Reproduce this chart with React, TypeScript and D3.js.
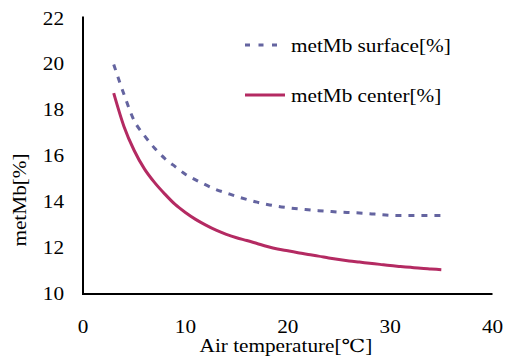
import React from "react";
import * as d3 from "d3";

const temps = [3,4,5,6,7,8,9,10,11,12,13,14,15,16,17,18,19,20,21,22,23,24,25,26,27,28,29,30,31,32,33,34,35];
const surface = [20.0,18.7,17.55,16.9,16.35,15.9,15.55,15.22,14.97,14.75,14.55,14.4,14.25,14.12,14.0,13.9,13.82,13.76,13.71,13.67,13.63,13.6,13.57,13.55,13.53,13.5,13.46,13.43,13.42,13.42,13.42,13.42,13.42];
const center = [18.75,17.3,16.25,15.45,14.85,14.35,13.9,13.55,13.25,13.0,12.78,12.6,12.45,12.33,12.2,12.07,11.96,11.88,11.8,11.72,11.65,11.57,11.5,11.44,11.39,11.34,11.29,11.24,11.2,11.16,11.12,11.09,11.06];
const xTicks = [0,10,20,30,40];
const yTicks = [10,12,14,16,18,20,22];
const seriesNames = ["metMb surface[%]", "metMb center[%]"];

const W = 508, H = 358;
const FONT = "Liberation Serif, Tinos, Times New Roman, DejaVu Serif, serif";
const ts: React.CSSProperties = { fontFamily: FONT, fontSize: "18px" };
const SX = 1.18;

function T({ x, y, anchor = "start", rotate = 0, children }: { x: number; y: number; anchor?: string; rotate?: number; children: React.ReactNode }) {
  return (
    <text transform={`translate(${x},${y}) rotate(${rotate}) scale(${SX},1)`} textAnchor={anchor as any} style={ts} fill="#000">
      {children}
    </text>
  );
}

export default function App() {
  const x = d3.scaleLinear().domain([0, 40]).range([83, 492.5]);
  const y = d3.scaleLinear().domain([10, 22]).range([294, 18.5]);
  const line = d3.line<number>().x((_, i) => x(temps[i])).y(d => y(d)).curve(d3.curveMonotoneX);
  return (
    <svg width={W} height={H} style={{ position: "absolute", left: 0, top: 0 }}>
      <rect width={W} height={H} fill="#fff" />
      <path d={line(surface) || ""} fill="none" stroke="#6464a0" strokeWidth={3} strokeDasharray="6,7" />
      <path d={line(center) || ""} fill="none" stroke="#b42a62" strokeWidth={3} />
      <line x1={x(0)} x2={x(0)} y1={y(22) - 2} y2={y(10) + 1} stroke="#000" strokeWidth={2} />
      <line x1={x(0) - 1} x2={x(40)} y1={y(10)} y2={y(10)} stroke="#000" strokeWidth={2} />
      {yTicks.map(t => (
        <T key={t} x={64} y={y(t) + 6} anchor="end">{t}</T>
      ))}
      {xTicks.map(t => (
        <T key={t} x={x(t)} y={333} anchor="middle">{t}</T>
      ))}
      <T x={286} y={352} anchor="middle">Air temperature[℃]</T>
      <T x={26} y={200} anchor="middle" rotate={-90}>metMb[%]</T>
      <line x1={245} x2={285} y1={45} y2={45} stroke="#6464a0" strokeWidth={3} strokeDasharray="5,8.5" />
      <T x={291} y={52}>{seriesNames[0]}</T>
      <line x1={245} x2={285} y1={95} y2={95} stroke="#b42a62" strokeWidth={3} />
      <T x={291} y={102}>{seriesNames[1]}</T>
    </svg>
  );
}
